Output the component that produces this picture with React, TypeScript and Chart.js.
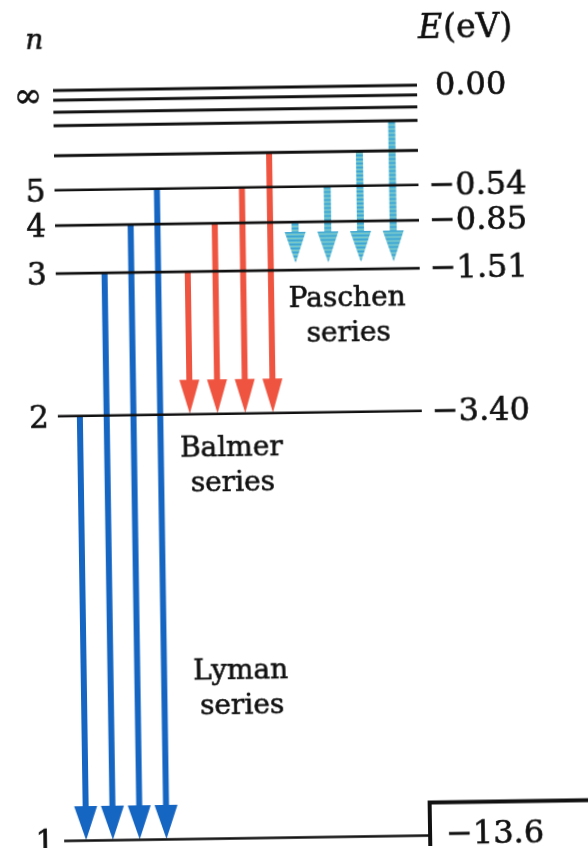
import React, { useEffect, useRef } from "react";
import { Chart, registerables } from "chart.js";

Chart.register(...registerables);

// ---------------- data ----------------
// principal quantum number of each drawn level (last one = ionisation limit)
const levelN = ["1", "2", "3", "4", "5", "6", "7", "8", "9", "∞"];
// schematic height of each level in the drawing (0 = ground state, 100 = ionisation limit)
const levelHeight = [0, 56.6, 75.6, 82.0, 86.7, 91.3, 95.3, 97.1, 98.7, 100];
// energy labels (eV) at the right of the levels ("" = no label)
const levelEnergy = ["−13.6", "−3.40", "−1.51", "−0.85", "−0.54", "", "", "", "", "0.00"];
// n labels at the left of the levels
const levelLabel = ["1", "2", "3", "4", "5", "", "", "", "", "∞"];

// transitions (upper n → lower n)
const lymanFrom = [2, 3, 4, 5];
const lymanTo = 1;
const balmerFrom = [3, 4, 5, 6];
const balmerTo = 2;
const paschenFrom = [4, 5, 6, 7];
const paschenTo = 3;

// ---------------- layout ----------------
const W = 588;
const H = 848;
const PX_N1 = 837.5; // pixel row of the ground level
const PX_INF = 87; // pixel row of the ionisation limit
const UNITS_PER_PX = 100 / (PX_N1 - PX_INF);
const Y_MIN = -(H - PX_N1) * UNITS_PER_PX;
const Y_MAX = 100 + PX_INF * UNITS_PER_PX;
const LINE_X0 = 58;
const LINE_X1 = 422;
const SERIF = '"DejaVu Serif"';

const hOf = (n: number) => levelHeight[n - 1];

export default function App() {
  const ref = useRef<HTMLCanvasElement | null>(null);

  useEffect(() => {
    const canvas = ref.current!;
    const c2d = canvas.getContext("2d")!;

    // dithered cyan texture of the Paschen arrows
    const pc = document.createElement("canvas");
    pc.width = 4;
    pc.height = 4;
    const g = pc.getContext("2d")!;
    g.fillStyle = "#58b8d6";
    g.fillRect(0, 0, 4, 4);
    g.fillStyle = "#3fa6cf";
    g.fillRect(0, 0, 4, 1);
    g.fillStyle = "#7ac8c6";
    g.fillRect(0, 2, 4, 1);
    const paschenFill = c2d.createPattern(pc, "repeat");

    const series = [
      { name: "Lyman", from: lymanFrom, to: lymanTo, x0: 80, dx: 26.8, fill: "#1565c2", shaft: 6, headW: 23, headH: 34, tipGap: 0.5, lx: 237, ly: 678 },
      { name: "Balmer", from: balmerFrom, to: balmerTo, x0: 190, dx: 27.7, fill: "#ef5440", shaft: 6, headW: 20, headH: 34, tipGap: 0.5, lx: 231, ly: 455 },
      { name: "Paschen", from: paschenFrom, to: paschenTo, x0: 298, dx: 32.7, fill: paschenFill, shaft: 7, headW: 21, headH: 31, tipGap: 7, lx: 349, ly: 307 },
    ];

    const datasets: any[] = [];
    levelHeight.forEach((h, i) => {
      datasets.push({
        label: "n=" + levelN[i],
        data: [
          { x: LINE_X0, y: h },
          { x: LINE_X1, y: h },
        ],
        showLine: true,
        borderColor: "#111",
        borderWidth: i >= 5 ? 2.9 : 2.6,
        pointRadius: 0,
      });
    });
    series.forEach((s) => {
      s.from.forEach((n, k) => {
        const x = s.x0 + k * s.dx;
        datasets.push({
          label: s.name + " " + n + "→" + s.to,
          data: [
            { x, y: hOf(n) },
            { x, y: hOf(s.to) },
          ],
          showLine: false,
          pointRadius: 0,
          arrow: { fill: s.fill, shaft: s.shaft, headW: s.headW, headH: s.headH, tipGap: s.tipGap },
        });
      });
    });

    const arrowPlugin = {
      id: "arrows",
      beforeDatasetsDraw(chart: any) {
        const ctx = chart.ctx;
        chart.data.datasets.forEach((ds: any, i: number) => {
          if (!ds.arrow) return;
          const meta = chart.getDatasetMeta(i);
          const a = meta.data[0];
          const b = meta.data[1];
          const { fill, shaft, headW, headH, tipGap } = ds.arrow;
          const x = a.x;
          const tip = b.y - tipGap;
          const base = tip - headH;
          ctx.save();
          ctx.fillStyle = fill;
          ctx.fillRect(x - shaft / 2, a.y, shaft, base - a.y + 2);
          ctx.beginPath();
          ctx.moveTo(x - headW / 2, base);
          ctx.lineTo(x + headW / 2, base);
          ctx.lineTo(x, tip);
          ctx.closePath();
          ctx.fill();
          ctx.restore();
        });
      },
    };

    const labelPlugin = {
      id: "labels",
      afterDraw(chart: any) {
        const ctx = chart.ctx;
        const ys = chart.scales.y;
        const xs = chart.scales.x;
        const py = (v: number) => ys.getPixelForValue(v);
        const px = (v: number) => xs.getPixelForValue(v);
        ctx.save();
        ctx.fillStyle = "#111";
        ctx.strokeStyle = "#111";
        ctx.lineWidth = 0.6;
        ctx.textBaseline = "alphabetic";
        const text = (t: string, x: number, y: number) => {
          ctx.fillText(t, x, y);
          ctx.strokeText(t, x, y);
        };

        // header: n and E(eV)
        ctx.font = `italic 28px ${SERIF}`;
        ctx.textAlign = "center";
        text("n", 40, 45);
        ctx.textAlign = "left";
        ctx.font = `italic 33px ${SERIF}`;
        text("E", 424, 40);
        const ew = ctx.measureText("E").width;
        ctx.font = `33px ${SERIF}`;
        text("(eV)", 424 + ew + 1, 40);

        // n labels on the left
        levelLabel.forEach((t, i) => {
          if (!t) return;
          const y = py(levelHeight[i]);
          ctx.textAlign = "center";
          if (t === "∞") {
            ctx.font = `34px ${SERIF}`;
            text(t, 33, y + 7 + 0.25 * 34);
          } else {
            ctx.font = `31px ${SERIF}`;
            text(t, 39, y + 0.3645 * 31);
          }
        });

        // energy labels on the right
        levelEnergy.forEach((t, i) => {
          if (!t) return;
          const y = py(levelHeight[i]);
          ctx.textAlign = "left";
          const size = 32;
          ctx.font = `${size}px ${SERIF}`;
          if (i === 0) {
            text(t, 440, y - 3 + 0.3645 * size);
          } else {
            const x = t.startsWith("−") ? 432 : 440;
            text(t, x, y - 1.5 + 0.3645 * size);
          }
        });

        // series names
        ctx.font = `28px ${SERIF}`;
        ctx.textAlign = "center";
        series.forEach((s) => {
          text(s.name, px(s.lx), s.ly);
          text("series", px(s.lx + 1), s.ly + 35);
        });

        // frame round the ground-state energy
        const y1 = py(levelHeight[0]);
        ctx.strokeStyle = "#111";
        ctx.lineWidth = 4;
        ctx.strokeRect(px(424), y1 - 33, 300, 200);
        ctx.restore();
      },
    };

    const chart = new Chart(canvas, {
      type: "scatter",
      data: { datasets },
      options: {
        animation: false,
        responsive: false,
        devicePixelRatio: 1,
        events: [],
        layout: { padding: 0 },
        plugins: { legend: { display: false }, tooltip: { enabled: false } },
        scales: {
          x: { type: "linear", display: false, min: 0, max: W },
          y: { type: "linear", display: false, min: Y_MIN, max: Y_MAX },
        },
      } as any,
      plugins: [arrowPlugin, labelPlugin],
    });
    return () => chart.destroy();
  }, []);

  return (
    <div style={{ position: "fixed", left: 0, top: 0, width: W, height: H, overflow: "hidden", background: "#fff" }}>
      <canvas
        ref={ref}
        width={W}
        height={H}
        style={{ display: "block", width: W, height: H, transform: "rotate(-0.85deg)", transformOrigin: "50% 50%" }}
      />
    </div>
  );
}
